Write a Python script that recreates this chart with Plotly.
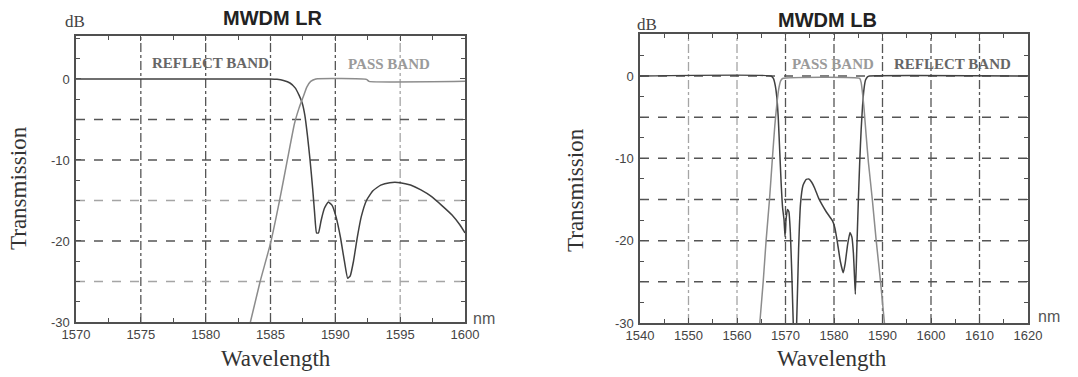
import plotly.graph_objects as go

# ---------------- data ----------------
# MWDM LR (left panel)
lr_reflect_wl = [1570, 1585.0, 1585.5, 1586.0, 1586.5, 1586.9, 1587.2, 1587.45, 1587.65, 1587.85,
                 1588.05, 1588.25, 1588.4, 1588.55, 1588.7, 1588.9, 1589.15, 1589.45, 1589.75,
                 1590.05, 1590.4, 1590.7, 1590.95, 1591.15, 1591.4, 1591.7, 1592.0, 1592.4,
                 1592.9, 1593.5, 1594.2, 1595.0, 1595.8, 1596.6, 1597.4, 1598.2, 1599.0, 1599.6, 1600]
lr_reflect_db = [0, 0, -0.05, -0.2, -0.5, -1.1, -2.0, -3.0, -4.5, -7.0,
                 -10.0, -13.5, -16.5, -19.0, -19.0, -17.5, -16.0, -15.2, -15.6,
                 -17.0, -19.6, -22.5, -24.6, -24.3, -22.5, -19.5, -17.0, -15.0,
                 -13.8, -13.1, -12.8, -12.8, -13.1, -13.7, -14.5, -15.6, -16.8, -18.0, -19.0]

lr_pass_wl = [1583.45, 1584.2, 1585.0, 1585.7, 1586.3, 1586.85, 1587.2, 1587.5, 1587.8, 1588.1,
              1588.5, 1592.4, 1592.6, 1600]
lr_pass_db = [-30, -25, -20.3, -15, -10, -5.5, -3.6, -2.3, -1.0, -0.3,
              0, -0.05, -0.3, -0.3]

# MWDM LB (right panel)
lb_reflect_wl = [1540, 1567.0, 1567.5, 1567.9, 1568.2, 1568.5, 1568.8, 1569.1, 1569.4, 1569.7,
                 1569.9, 1570.1, 1570.4, 1570.7, 1571.0, 1571.3, 1571.6, 1571.95, 1572.3,
                 1572.7, 1573.1, 1573.6, 1574.2, 1574.8, 1575.4, 1576.0, 1576.8, 1577.5,
                 1578.3, 1579.0, 1579.7, 1580.2, 1580.7, 1581.3, 1581.9, 1582.3, 1582.8,
                 1583.3, 1583.7, 1584.0, 1584.2, 1584.4, 1584.7, 1585.0, 1585.3, 1585.6,
                 1585.9, 1586.2, 1586.5, 1586.9, 1587.3, 1620]
lb_reflect_db = [0, 0, -0.3, -1.2, -2.5, -5.0, -9.0, -13.0, -16.0, -17.5,
                 -19.5, -17.5, -16.2, -16.5, -19.0, -24.0, -30.0, -34.0, -30.0,
                 -21.0, -15.5, -13.3, -12.6, -12.5, -12.9, -13.6, -14.8, -15.6,
                 -16.4, -17.0, -17.6, -18.5, -20.2, -22.5, -23.9, -22.8, -20.5,
                 -19.0, -19.6, -21.5, -24.0, -26.5, -21.0, -15.5, -10.5, -6.5,
                 -3.5, -1.5, -0.5, -0.1, 0, 0]

lb_pass_wl = [1564.7, 1565.4, 1566.0, 1566.7, 1567.3, 1567.8, 1568.2, 1568.6, 1569.0, 1569.4,
              1585.3, 1585.6, 1585.9, 1586.2, 1586.6, 1587.1, 1587.9, 1588.7, 1589.6, 1590.4]
lb_pass_db = [-30, -25, -20, -15, -10, -6, -3.5, -1.6, -0.6, -0.3,
              -0.3, -0.8, -2.2, -4.0, -7.0, -10.5, -15, -20, -25, -30]

lr_xticks = [1570, 1575, 1580, 1585, 1590, 1595, 1600]
lb_xticks = [1540, 1550, 1560, 1570, 1580, 1590, 1600, 1610, 1620]
y_ticks = [-30, -20, -10, 0]

# ---------------- styling ----------------
DARK = "#404040"
LIGHT = "#8c8c8c"
GRID_DARK = "#555555"
GRID_LIGHT = "#a5a5a5"
SERIF = "Liberation Serif, Times New Roman, serif"
SANS = "Liberation Sans, Arial, sans-serif"
NARROW = "Liberation Sans Narrow, Arial Narrow, Liberation Sans, sans-serif"

W, H = 1078, 377
def fx(px):
    return px / W
def fy(py):
    return 1 - py / H

fig = go.Figure()
line_kw = dict(shape="spline", smoothing=0.4)

fig.add_trace(go.Scatter(x=lr_reflect_wl, y=lr_reflect_db, mode="lines",
                         line=dict(color=DARK, width=1.5, **line_kw), xaxis="x", yaxis="y",
                         showlegend=False))
fig.add_trace(go.Scatter(x=lr_pass_wl, y=lr_pass_db, mode="lines",
                         line=dict(color=LIGHT, width=1.5, **line_kw), xaxis="x", yaxis="y",
                         showlegend=False))
fig.add_trace(go.Scatter(x=lb_reflect_wl, y=lb_reflect_db, mode="lines",
                         line=dict(color=DARK, width=1.5, **line_kw), xaxis="x2", yaxis="y2",
                         showlegend=False))
fig.add_trace(go.Scatter(x=lb_pass_wl, y=lb_pass_db, mode="lines",
                         line=dict(color=LIGHT, width=1.5, **line_kw), xaxis="x2", yaxis="y2",
                         showlegend=False))

y_lo, y_hi_l, y_hi_r = -30, 5.3, 5.1

def axis(domain, rng, tickvals, minor_dtick, anchor, tick0):
    return dict(domain=domain, range=rng, tickvals=tickvals, ticktext=[str(v) for v in tickvals],
                showgrid=False, zeroline=False, showline=True, linecolor="#505050", linewidth=1.6,
                mirror="ticks", ticks="inside", ticklen=5, tickcolor="#505050",
                minor=dict(ticks="inside", dtick=minor_dtick, tick0=tick0, ticklen=4, tickcolor="#505050"),
                tickfont=dict(family=NARROW, size=13, color="#444"), anchor=anchor, fixedrange=True,
                automargin=False)

fig.update_layout(
    width=W, height=H,
    margin=dict(l=0, r=0, t=0, b=0, pad=0),
    paper_bgcolor="white", plot_bgcolor="white",
    xaxis=axis([fx(76), fx(465)], [1570, 1600], lr_xticks, 2.5, "y", 1570),
    yaxis=axis([fy(322), fy(36)], [y_lo, y_hi_l], y_ticks, 2.5, "x", 0),
    xaxis2=axis([fx(640), fx(1028)], [1540, 1620], lb_xticks, 5, "y2", 1540),
    yaxis2=axis([fy(323), fy(34)], [y_lo, y_hi_r], y_ticks, 2.5, "x2", 0),
)
fig.layout.xaxis.ticklabelstandoff = 0
fig.layout.xaxis2.ticklabelstandoff = 0
fig.layout.yaxis.ticklabelstandoff = 2
fig.layout.yaxis2.ticklabelstandoff = 2

# grid lines (dashed, mixed tones like the scan)
shapes = []
def vline(x, xref, yref, color, top):
    shapes.append(dict(type="line", xref=xref, yref=yref, x0=x, x1=x, y0=y_lo, y1=top,
                       line=dict(color=color, width=1.3, dash="dashdot"), layer="below"))
def hline(y, xref, yref, color, x0, x1):
    shapes.append(dict(type="line", xref=xref, yref=yref, x0=x0, x1=x1, y0=y, y1=y,
                       line=dict(color=color, width=1.5, dash="dash"), layer="below"))

for x, c in zip([1575, 1580, 1585, 1590, 1595], [GRID_DARK, GRID_DARK, GRID_DARK, GRID_DARK, GRID_LIGHT]):
    vline(x, "x", "y", c, y_hi_l)
for y, c in zip([-5, -10, -15, -20, -25], [GRID_DARK, GRID_DARK, GRID_LIGHT, GRID_DARK, GRID_LIGHT]):
    hline(y, "x", "y", c, 1570, 1600)

for x, c in zip([1550, 1560, 1570, 1580, 1590, 1600, 1610],
                [GRID_LIGHT, GRID_LIGHT, GRID_DARK, GRID_DARK, GRID_DARK, GRID_DARK, GRID_DARK]):
    vline(x, "x2", "y2", c, y_hi_r)
for y in [0, -5, -10, -15, -20, -25]:
    hline(y, "x2", "y2", GRID_DARK, 1540, 1620)
fig.update_layout(shapes=shapes)

ann = []
def text(t, x, y, size, family, color="#333", bold=False, xref="paper", yref="paper", angle=0,
         xanchor="center", yanchor="middle"):
    if bold:
        t = "<b>" + t + "</b>"
    if xref == "paper":
        x = fx(x)
    if yref == "paper":
        y = fy(y)
    ann.append(dict(text=t, x=x, y=y, xref=xref, yref=yref, showarrow=False, textangle=angle,
                    font=dict(size=size, family=family, color=color), xanchor=xanchor, yanchor=yanchor))

# titles
text("MWDM LR", 272, 18, 20, SANS, "#222", bold=True)
text("MWDM LB", 827, 20, 20, SANS, "#222", bold=True)
# units
text("dB", 75, 21, 17, SERIF, "#444")
text("dB", 647, 24, 17, SERIF, "#444")
text("nm", 484, 318, 16, SANS, "#555")
text("nm", 1049, 316, 16, SANS, "#555")
# axis titles
text("Transmission", 19, 188, 23, SERIF, "#333", angle=-90)
text("Transmission", 575, 190, 23, SERIF, "#333", angle=-90)
text("Wavelength", 276, 358, 23, SERIF, "#333")
text("Wavelength", 832, 358, 23, SERIF, "#333")
# band labels
text("REFLECT BAND", 1580.4, 2.0, 15, SERIF, "#666", bold=True, xref="x", yref="y")
text("PASS BAND", 1594.1, 1.9, 15, SERIF, "#9a9a9a", bold=True, xref="x", yref="y")
text("PASS BAND", 1579.7, 1.4, 15, SERIF, "#9a9a9a", bold=True, xref="x2", yref="y2")
text("REFLECT BAND", 1604.5, 1.4, 15, SERIF, "#666", bold=True, xref="x2", yref="y2")
fig.update_layout(annotations=ann)

# remove the default 8 px page margin so the figure sits at the window's top-left corner
fig.write_html("out.html", config={"displayModeBar": False, "staticPlot": True},
               post_script="document.body.style.margin='0';document.body.style.overflow='hidden';")
